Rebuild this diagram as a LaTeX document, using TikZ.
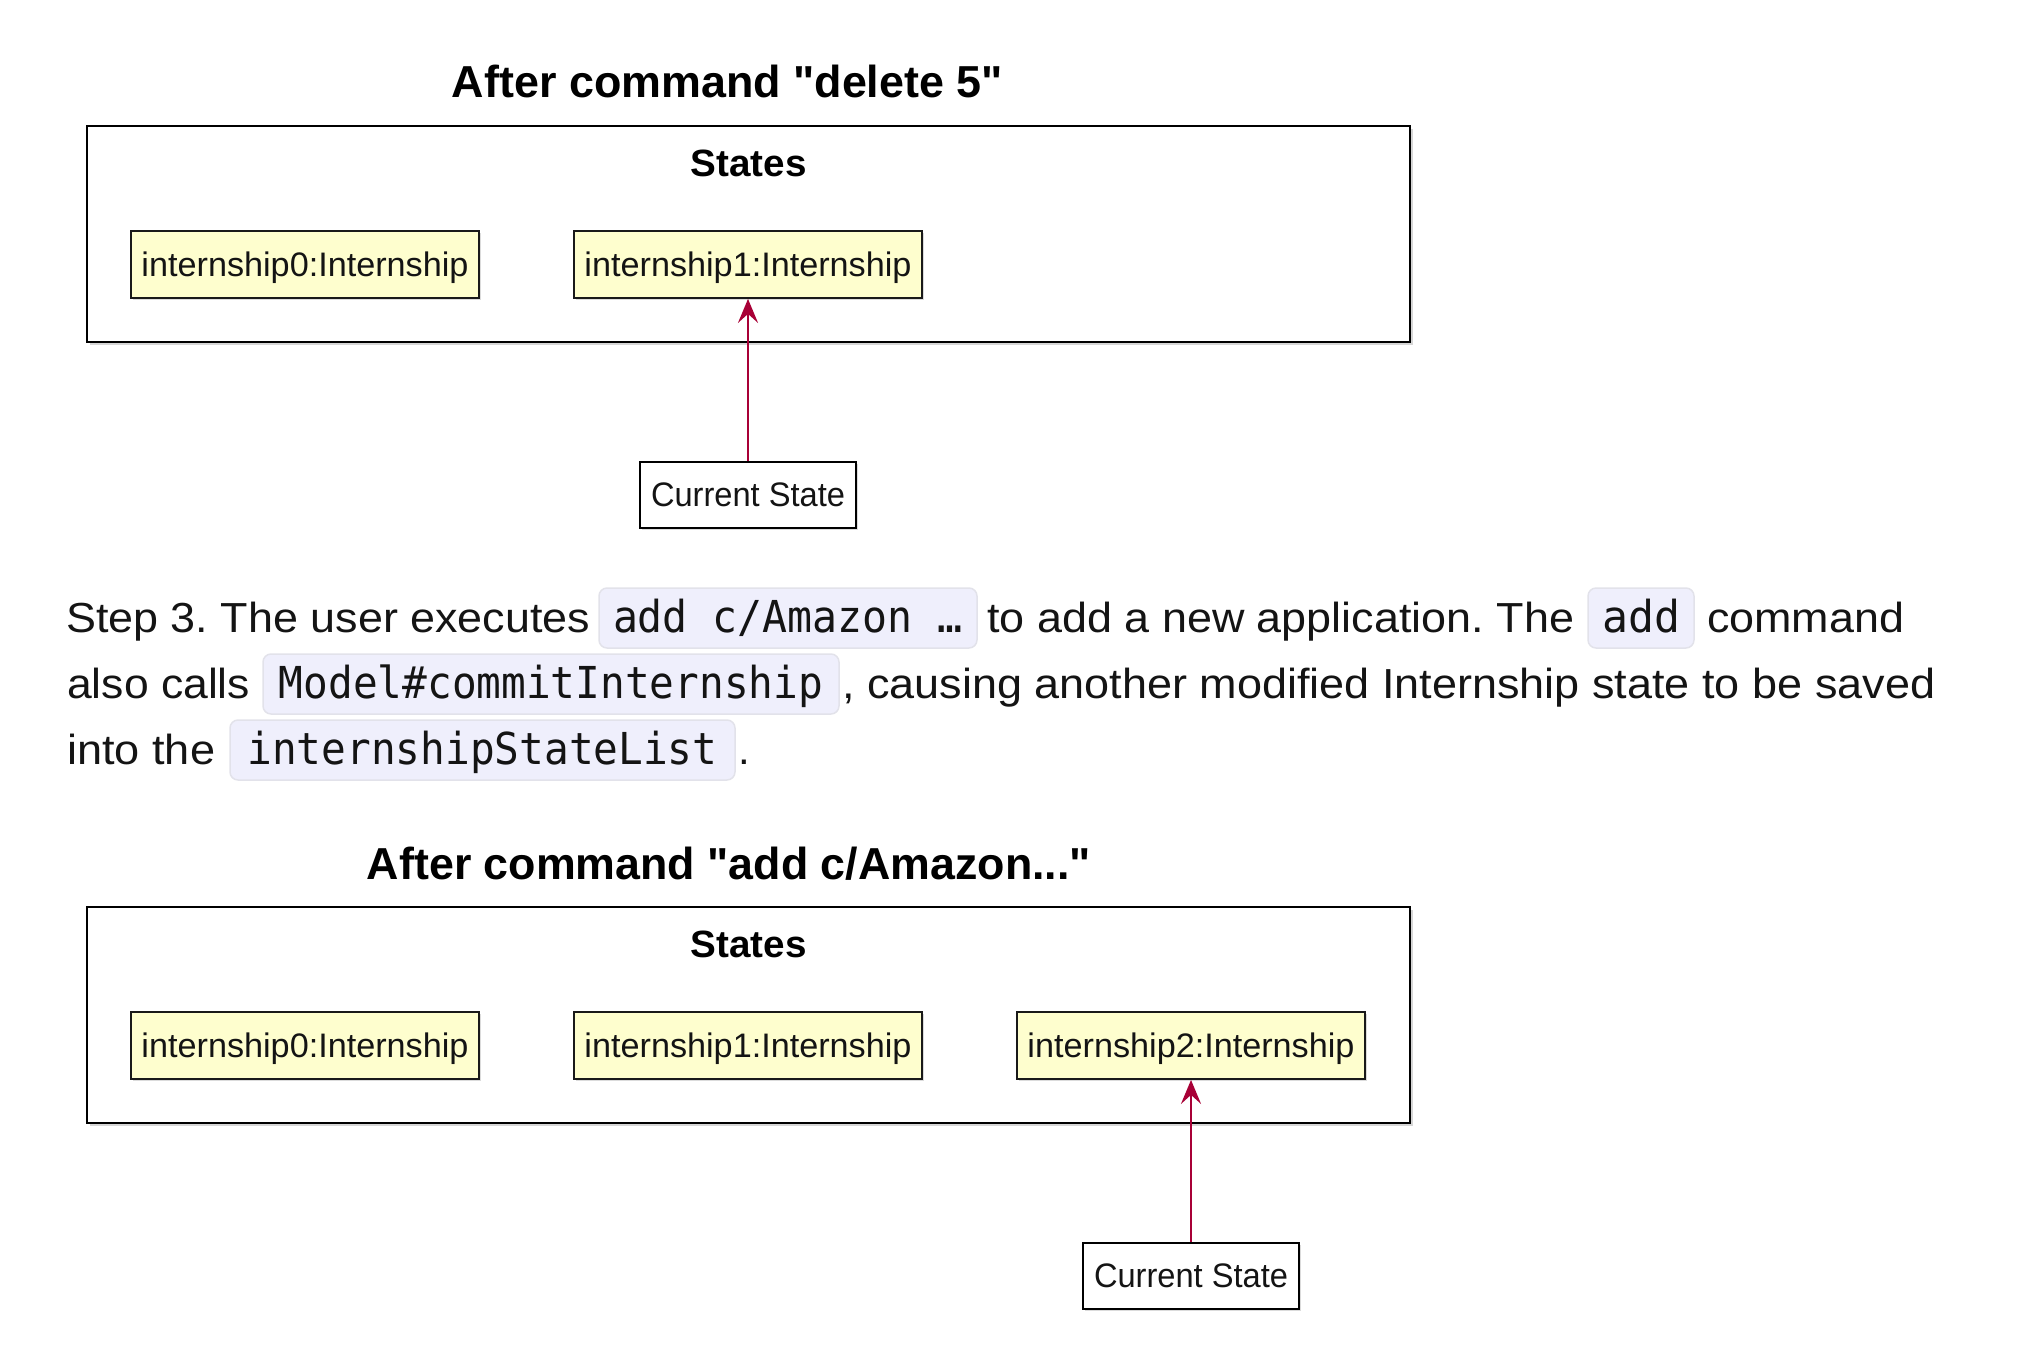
\documentclass[tikz,border=0pt]{standalone}
\usepackage{fontspec}
\usepackage{graphicx}
\setmainfont{Liberation Sans}[Ligatures=TeXOff]
\newfontfamily\codefont{DejaVu Sans Mono}
\usetikzlibrary{arrows.meta,shadows}
\newcommand\fitto[2]{\resizebox{#1}{\height}{#2}}
\definecolor{objfill}{HTML}{FEFECE}
\definecolor{arrowred}{HTML}{A80036}
\definecolor{codefill}{HTML}{EFEFFC}
\definecolor{codeedge}{HTML}{E2E2EA}
\definecolor{ink}{HTML}{141414}
\frenchspacing
\begin{document}
\begin{tikzpicture}[x=1pt,y=-1pt,
  frame/.style={draw=black, line width=2.6pt, fill=white, minimum width=1323pt, minimum height=216pt, inner sep=0pt,
    general shadow={fill=black!16, shadow xshift=2.5pt, shadow yshift=-2.5pt}},
  obj/.style={draw=black!90, line width=1.8pt, fill=objfill, minimum width=348pt, minimum height=67pt, inner sep=0pt,
    font=\fontsize{34}{40}\selectfont, text=ink, text height=23pt, text depth=0pt,
    general shadow={fill=black!14, shadow xshift=2pt, shadow yshift=-2pt}},
  cur/.style={draw=black, line width=1.8pt, fill=white, minimum width=216pt, minimum height=66pt, inner sep=0pt,
    font=\fontsize{34}{40}\selectfont, text=ink, text height=22pt, text depth=0pt,
    general shadow={fill=black!14, shadow xshift=2pt, shadow yshift=-2pt}},
  dtitle/.style={anchor=base, inner sep=0pt, font=\bfseries\fontsize{44.8}{52}\selectfont, text=black},
  stlabel/.style={anchor=base, inner sep=0pt, font=\bfseries\fontsize{38}{44}\selectfont, text=black},
  ptr/.style={draw=arrowred, line width=2.4pt, -{Stealth[length=24pt, width=20pt, inset=9pt]}},
  body/.style={anchor=base west, inner sep=0pt, font=\fontsize{42}{48}\selectfont, text=ink},
  code/.style={draw=codeedge, line width=1.5pt, fill=codefill, rounded corners=8pt, inner sep=0pt, minimum height=60pt,
    font=\codefont\fontsize{44}{50}\selectfont, text=ink, text height=30pt, text depth=2pt}
]
\useasboundingbox (0,0) rectangle (2018,1360);

% ---------- diagram 1 ----------
\node[dtitle] (title1) at (727.5,97) {\fitto{551pt}{After command "delete 5"}};
\node[frame] (frame1) at (748.5,234) {};
\node[stlabel] (states1) at (748.5,176) {\fitto{116pt}{States}};
\node[obj] (a0) at (305,264.5) {\fitto{327pt}{internship0:Internship}};
\node[obj] (a1) at (748,264.5) {\fitto{327pt}{internship1:Internship}};
\node[cur] (cs1) at (748,495) {\fitto{194pt}{Current State}};
\draw[ptr] (cs1.north) -- (a1.south);

% ---------- paragraph ----------
\node[body] (t1a) at (66,632) {\fitto{524pt}{Step 3. The user executes}};
\node[code, minimum width=378pt] (c1) at (788,618) {\fitto{350pt}{add c/Amazon …}};
\node[body] (t1b) at (987,632) {\fitto{587pt}{to add a new application. The}};
\node[code, minimum width=106pt] (c2) at (1641,618) {\fitto{78pt}{add}};
\node[body] (t1c) at (1707,632) {\fitto{197pt}{command}};

\node[body] (t2a) at (67,698) {\fitto{183pt}{also calls}};
\node[code, minimum width=576pt] (c3) at (551,684) {\fitto{544pt}{Model\#commitInternship}};
\node[body] (t2b) at (842,698) {\fitto{1093pt}{, causing another modified Internship state to be saved}};

\node[body] (t3a) at (67,764) {\fitto{148pt}{into the}};
\node[code, minimum width=505pt] (c4) at (482.5,750) {\fitto{470pt}{internshipStateList}};
\node[body] (t3b) at (738,764) {.};

% ---------- diagram 2 ----------
\node[dtitle] (title2) at (729,879) {\fitto{724pt}{After command "add c/Amazon..."}};
\node[frame] (frame2) at (748.5,1015) {};
\node[stlabel] (states2) at (748.5,957) {\fitto{116pt}{States}};
\node[obj] (b0) at (305,1045.5) {\fitto{327pt}{internship0:Internship}};
\node[obj] (b1) at (748,1045.5) {\fitto{327pt}{internship1:Internship}};
\node[obj] (b2) at (1191,1045.5) {\fitto{327pt}{internship2:Internship}};
\node[cur] (cs2) at (1191,1276) {\fitto{194pt}{Current State}};
\draw[ptr] (cs2.north) -- (b2.south);
\end{tikzpicture}
\end{document}
